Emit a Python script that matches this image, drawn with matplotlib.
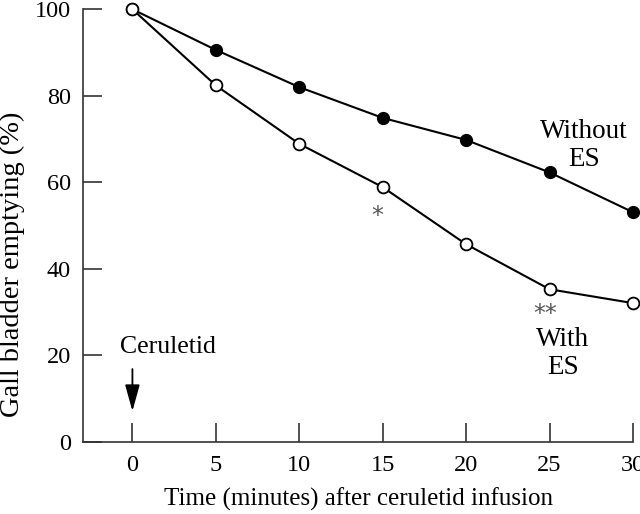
import matplotlib
matplotlib.use("Agg")
import matplotlib.pyplot as plt

# data
time_min = [0, 5, 10, 15, 20, 25, 30]
without_es = [100, 90.6, 82.0, 74.9, 69.8, 62.3, 53.1]
with_es = [100, 82.4, 68.9, 58.9, 45.7, 35.3, 32.1]
xticks = [0, 5, 10, 15, 20, 25, 30]
yticks = [0, 20, 40, 60, 80, 100]

plt.rcParams['font.family'] = ['Liberation Serif', 'DejaVu Serif']
plt.rcParams['font.size'] = 17

fig = plt.figure(figsize=(6.4, 5.14), dpi=100)
ax = fig.add_axes([0.130, 0.140, 0.859, 0.842])

ax.plot(time_min, without_es, '-o', color='black', lw=1.5, ms=8.5,
        mfc='black', mec='black', zorder=3, clip_on=False)
ax.plot(time_min, with_es, '-o', color='black', lw=1.5, ms=8.5,
        mfc='white', mec='black', mew=1.3, zorder=3, clip_on=False)

ax.set_xlim(-2.95, 30)
ax.set_ylim(0, 100)
ax.set_xticks(xticks)
ax.set_yticks(yticks)
ax.tick_params(direction='in', length=13.5, width=1.2, color='#333333',
               labelsize=17.5, pad=9)
ax.tick_params(axis='y', pad=9)
for s in ['top', 'right']:
    ax.spines[s].set_visible(False)
for s in ['left', 'bottom']:
    ax.spines[s].set_color('#333333')
    ax.spines[s].set_linewidth(1.2)

ax.set_xlabel("Time (minutes) after ceruletid infusion", fontsize=18, labelpad=9)
ax.set_ylabel("Gall bladder emptying (%)", fontsize=20.5)
ax.yaxis.set_label_coords(-0.106, 0.41)

# annotations
ax.text(27.05, 68.6, "Without\nES", ha='center', va='center', fontsize=19.5,
        linespacing=1.15)
ax.text(25.8, 20.5, "With\nES", ha='center', va='center', fontsize=19.5,
        linespacing=1.15)
ax.text(14.7, 52.2, "*", ha='center', va='center', fontsize=17,
        color='#555555', family='DejaVu Sans')
ax.text(24.75, 29.6, "**", ha='center', va='center', fontsize=17,
        color='#555555', family='DejaVu Sans')
ax.text(-0.75, 22.0, "Ceruletid", ha='left', va='center', fontsize=18.5)
ax.annotate("", xy=(0, 6.5), xytext=(0, 17.5),
            arrowprops=dict(arrowstyle='-|>,head_length=0.9,head_width=0.25',
                            color='black', lw=1.3, mutation_scale=18))

fig.savefig("out.png", dpi=100)
